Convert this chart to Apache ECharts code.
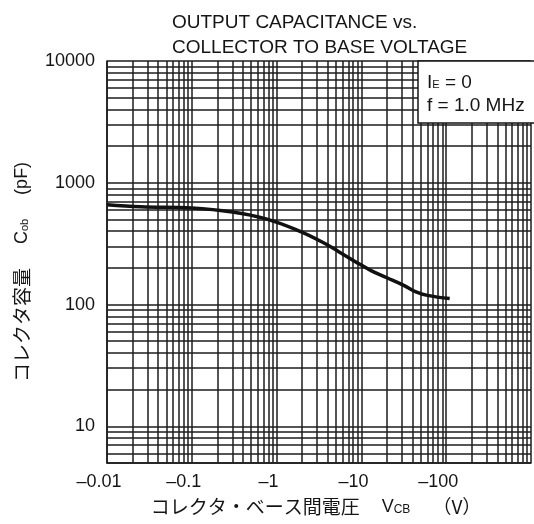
<!DOCTYPE html>
<html><head><meta charset="utf-8">
<script src="https://cdn.jsdelivr.net/npm/echarts@6/dist/echarts.min.js"></script>
<style>html,body{margin:0;padding:0;background:#fff}#c{width:534px;height:524px}</style>
</head><body><div id="c"></div>
<script>
// Curve: |VCB| (V) and Cob (pF)
const vcb = [0.01, 0.025, 0.1, 0.3, 0.75, 1.8, 3.4, 5.4, 8.5, 13, 20, 32, 44, 60, 110];
const cob = [660, 635, 620, 575, 505, 405, 328, 272, 225, 190, 166, 143, 127, 119, 112];

// Grid decades and tick labels
const xDecades = [0.01, 0.1, 1, 10, 100];
const xEnd = 1000;
const yDecades = [1, 10, 100, 1000];
const yEnd = 10000;
const yStart = 5;
const multipliers = [1, 2, 3, 4, 5, 6, 7, 8, 9];
const xTickLabels = {'0.01': '–0.01', '0.1': '–0.1', '1': '–1', '10': '–10', '100': '–100'};
const yTickLabels = {'10': '10', '100': '100', '1000': '1000', '10000': '10000'};

const LAT = '"Liberation Sans", Arial, Helvetica, sans-serif';
const JP = '"Noto Sans CJK JP", "Liberation Sans", sans-serif';
const INK = '#151515';

const xGrid = [];
xDecades.forEach(d => multipliers.forEach(m => xGrid.push(+(d * m).toPrecision(6))));
xGrid.push(xEnd);
const yGrid = [];
yDecades.forEach(d => multipliers.forEach(m => { const v = +(d * m).toPrecision(6); if (v >= yStart) yGrid.push(v); }));
yGrid.push(yEnd);

const key = v => String(+(+v).toPrecision(6));

const chart = echarts.init(document.getElementById('c'), null, {renderer: 'canvas'});
chart.setOption({
  animation: false,
  backgroundColor: '#fff',
  title: {
    text: 'OUTPUT CAPACITANCE vs.\nCOLLECTOR TO BASE VOLTAGE',
    left: 172, top: 10, padding: 0,
    textStyle: {fontFamily: LAT, fontSize: 19, fontWeight: 'normal', color: INK, lineHeight: 25}
  },
  grid: {left: 107, top: 61, right: 0, bottom: 61},
  xAxis: {
    type: 'log', logBase: 10, min: 0.01, max: xEnd,
    axisLine: {show: true, lineStyle: {color: INK, width: 1.5}},
    axisTick: {show: false},
    splitLine: {show: false},
    axisLabel: {
      margin: 10, fontSize: 18, fontFamily: LAT, color: INK,
      padding: [0, 16, 0, 0],
      formatter: v => xTickLabels[key(v)] || ''
    },
    name: '{j|コレクタ・ベース間電圧}{g|}{v|V}{s|CB}{g|}{j|（V）}',
    nameLocation: 'middle', nameGap: 33,
    nameTextStyle: {
      padding: [0, 6, 0, 0],
      rich: {
        j: {fontFamily: JP, fontSize: 19, color: INK, lineHeight: 22},
        v: {fontFamily: LAT, fontSize: 18, color: INK, lineHeight: 22},
        s: {fontFamily: LAT, fontSize: 12, color: INK, lineHeight: 22, padding: [5, 0, 0, 0]},
        g: {width: 22}
      }
    }
  },
  yAxis: {
    type: 'log', logBase: 10, min: yStart, max: yEnd,
    axisLine: {show: true, lineStyle: {color: INK, width: 1.5}},
    axisTick: {show: false},
    splitLine: {show: false},
    axisLabel: {
      margin: 12, fontSize: 18, fontFamily: LAT, color: INK,
      formatter: v => yTickLabels[key(v)] || ''
    },
    name: '{j|コレクタ容量}{g|}{v|C}{s|ob}{g|}{v|(pF)}',
    nameLocation: 'middle', nameGap: 74, nameRotate: 90,
    nameTextStyle: {
      padding: [0, 20, 0, 0],
      rich: {
        j: {fontFamily: JP, fontSize: 19, color: INK, lineHeight: 22},
        v: {fontFamily: LAT, fontSize: 18, color: INK, lineHeight: 22},
        s: {fontFamily: LAT, fontSize: 11, color: INK, lineHeight: 22, padding: [5, 0, 0, 0]},
        g: {width: 24}
      }
    }
  },
  series: [
    {
      type: 'line', data: [], silent: true, symbol: 'none',
      markLine: {
        silent: true, symbol: ['none', 'none'], z: 1,
        label: {show: false},
        lineStyle: {color: '#1c1c1c', width: 1.5, type: 'solid'},
        emphasis: {disabled: true},
        data: xGrid.map(v => ({xAxis: v})).concat(yGrid.map(v => ({yAxis: v})))
      }
    },
    {
      type: 'line', z: 10,
      data: vcb.map((v, i) => [v, cob[i]]),
      symbol: 'none', smooth: 0.4,
      lineStyle: {color: '#111', width: 3.5}
    }
  ],
  graphic: [
    {
      type: 'rect', z: 50,
      shape: {x: 418, y: 61, width: 130, height: 62},
      style: {fill: '#fff', stroke: INK, lineWidth: 1.5}
    },
    {
      type: 'text', z: 51, left: 427, top: 73,
      style: {
        text: '{v|I}{s|E}{v| = 0}\n{v|f = 1.0 MHz}',
        rich: {
          v: {fontFamily: LAT, fontSize: 19, fill: INK, lineHeight: 23},
          s: {fontFamily: LAT, fontSize: 11, fill: INK, lineHeight: 23, padding: [5, 0, 0, 0]}
        }
      }
    }
  ]
});
</script>
</body></html>
